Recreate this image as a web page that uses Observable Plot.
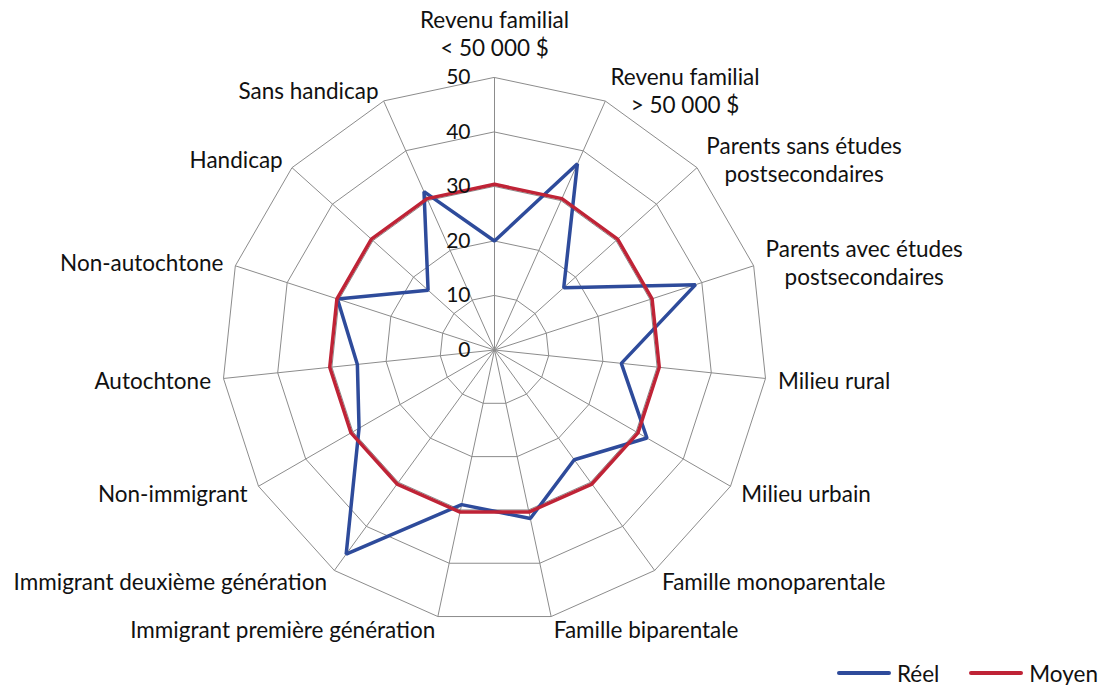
<!DOCTYPE html>
<html><head><meta charset="utf-8">
<script src="https://cdn.jsdelivr.net/npm/d3@7"></script>
<script src="https://cdn.jsdelivr.net/npm/@observablehq/plot@0.6"></script>
<style>
body{margin:0;background:#fff;font-family:Lato, "Open Sans", sans-serif;}
#wrap{position:relative;width:1107px;height:685px;overflow:hidden;}
#legend{position:absolute;top:658px;right:9px;height:30px;display:flex;align-items:center;font-size:22.5px;color:#111;}
.item{display:flex;align-items:center;margin-left:30px;}
.sw{width:54px;height:4px;border-radius:2px;margin-right:6px;}
</style></head><body>
<div id="wrap"><div id="chart"></div><div id="legend"></div></div>
<script>
const categories = [
  "Revenu familial\n< 50 000 $",
  "Revenu familial\n> 50 000 $",
  "Parents sans études\npostsecondaires",
  "Parents avec études\npostsecondaires",
  "Milieu rural",
  "Milieu urbain",
  "Famille monoparentale",
  "Famille biparentale",
  "Immigrant première génération",
  "Immigrant deuxième génération",
  "Non-immigrant",
  "Autochtone",
  "Non-autochtone",
  "Handicap",
  "Sans handicap"
];
const reel  = [20, 37.4, 17.1, 38.8, 23.4, 32.3, 24.9, 31.6, 29.0, 46.3, 28.7, 25.3, 30.3, 16.4, 31.8];
const moyen = [30.4, 30.4, 30.4, 30.4, 30.4, 30.4, 30.4, 30.4, 30.4, 30.4, 30.4, 30.4, 30.4, 30.4, 30.4];
const ticks = [0, 10, 20, 30, 40, 50];
const seriesNames = ["Réel", "Moyen"];
const seriesColors = ["#2E4B9B", "#BF2336"];

const n = categories.length;
const maxV = d3.max(ticks);
const ang = i => 2 * Math.PI * i / n;
const px = (r, i) => r * Math.sin(ang(i));
const py = (r, i) => r * Math.cos(ang(i));

const rings = [];
ticks.slice(1).forEach(t => categories.forEach((c, i) => rings.push({ring: t, i})));
const spokes = categories.map((c, i) => ({i}));
const series = [];
[reel, moyen].forEach((vals, s) => vals.forEach((v, i) => series.push({series: seriesNames[s], i, v})));

const cx = 494, cy = 349.5, R = 272.5;
const fs = 22.5;
const lh = 1.25;
const fontFamily = "Lato, 'Open Sans', sans-serif";
const ctx = document.createElement("canvas").getContext("2d");
ctx.font = `${fs}px Lato`;
const labelR = maxV * 1.046;
const labels = categories.map((c, i) => {
  const s = Math.sin(ang(i));
  const anchor = s > 0.1 ? "start" : s < -0.1 ? "end" : "middle";
  const lines = c.split("\n");
  const w = d3.max(lines, l => ctx.measureText(l).width);
  return {c, i, anchor, multi: lines.length > 1, w};
});

const labelMarks = labels.map(d => {
  const opts = {
    x: e => px(labelR, e.i), y: e => py(labelR, e.i), text: "c",
    fontSize: fs, lineHeight: lh, fill: "#111", textAnchor: d.anchor
  };
  if (d.anchor === "middle") { opts.lineAnchor = "bottom"; opts.dy = -9; }
  else if (d.multi) { opts.textAnchor = "middle"; opts.dx = (d.anchor === "start" ? 1 : -1) * d.w / 2; }
  return Plot.text([d], opts);
});

const chart = Plot.plot({
  width: 1107, height: 655,
  x: {domain: [-maxV, maxV], range: [cx - R, cx + R], axis: null},
  y: {domain: [-maxV, maxV], range: [cy + R, cy - R], axis: null},
  color: {domain: seriesNames, range: seriesColors},
  style: {fontFamily, background: "#fff", color: "#111"},
  marks: [
    Plot.line(rings, {x: d => px(d.ring, d.i), y: d => py(d.ring, d.i), z: "ring", curve: "linear-closed", stroke: "#8c8c8c", strokeWidth: 1}),
    Plot.link(spokes, {x1: d => 0, y1: d => 0, x2: d => px(maxV, d.i), y2: d => py(maxV, d.i), stroke: "#8c8c8c", strokeWidth: 1}),
    Plot.line(series, {x: d => px(d.v, d.i), y: d => py(d.v, d.i), z: "series", stroke: "series", curve: "linear-closed", strokeWidth: 3.5, strokeLinejoin: "miter"}),
    Plot.text(ticks, {x: d => 0, y: d => d, text: d => String(d), textAnchor: "end", dx: -24, fontSize: 21, fill: "#111"}),
    ...labelMarks
  ]
});
document.getElementById("chart").appendChild(chart);

const legend = document.getElementById("legend");
seriesNames.forEach((name, k) => {
  const item = document.createElement("div");
  item.className = "item";
  const sw = document.createElement("div");
  sw.className = "sw";
  sw.style.background = seriesColors[k];
  const t = document.createElement("span");
  t.textContent = name;
  item.appendChild(sw); item.appendChild(t);
  legend.appendChild(item);
});
</script></body></html>
